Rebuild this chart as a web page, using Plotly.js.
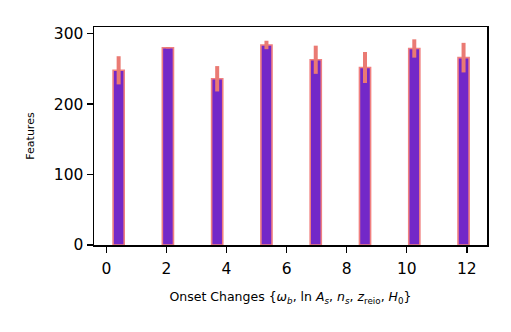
<!DOCTYPE html>
<html>
<head>
<meta charset="utf-8">
<script src="https://cdn.plot.ly/plotly-3.0.1.min.js"></script>
<style>html,body{margin:0;padding:0;background:#fff;}#chart{width:511px;height:332px;}</style>
</head>
<body>
<div id="chart"></div>
<script>
const positions = [0.41, 2.05, 3.69, 5.33, 6.97, 8.61, 10.25, 11.89];
const features = [248, 280, 236, 284, 263, 252, 279, 266];
const errors = [20, 1, 18, 6, 20, 22, 13, 21];
const xTicks = [0, 2, 4, 6, 8, 10, 12];
const yTicks = [0, 100, 200, 300];

const FONT = '"DejaVu Sans", sans-serif';

const trace = {
  type: 'bar',
  x: positions,
  y: features,
  width: 0.37,
  marker: { color: '#7328c8', line: { color: '#f08080', width: 1.6 } },
  error_y: { type: 'data', array: errors, visible: true, color: '#ea7a73', thickness: 4, width: 0 }
};

const layout = {
  width: 511, height: 332,
  margin: { l: 94, r: 24, t: 27, b: 87 },
  paper_bgcolor: '#ffffff', plot_bgcolor: '#ffffff',
  showlegend: false,
  font: { family: FONT, color: '#000' },
  xaxis: {
    range: [-0.41, 12.67],
    tickvals: xTicks, ticktext: xTicks.map(String),
    ticks: 'outside', ticklen: 6, tickwidth: 1.3, tickcolor: '#000',
    ticklabelstandoff: 3,
    showline: true, linecolor: '#000', linewidth: 1.5, mirror: true,
    showgrid: false, zeroline: false,
    tickfont: { size: 15.5, family: FONT },
    title: { text: 'Onset Changes {<i>ω</i><sub><i>b</i></sub>, ln <i>A</i><sub><i>s</i></sub>, <i>n</i><sub><i>s</i></sub>, <i>z</i><sub>reio</sub>, <i>H</i><sub>0</sub>}', font: { size: 12.5, family: FONT }, standoff: 15 }
  },
  yaxis: {
    range: [0, 309.5],
    tickvals: yTicks, ticktext: yTicks.map(String),
    ticks: 'outside', ticklen: 6, tickwidth: 1.3, tickcolor: '#000',
    showline: true, linecolor: '#000', linewidth: 1.5, mirror: true,
    showgrid: false, zeroline: false,
    tickfont: { size: 15.5, family: FONT },
    title: { text: 'Features', font: { size: 11, family: FONT }, standoff: 17 }
  }
};

Plotly.newPlot('chart', [trace], layout, { displayModeBar: false, staticPlot: true });
</script>
</body>
</html>
